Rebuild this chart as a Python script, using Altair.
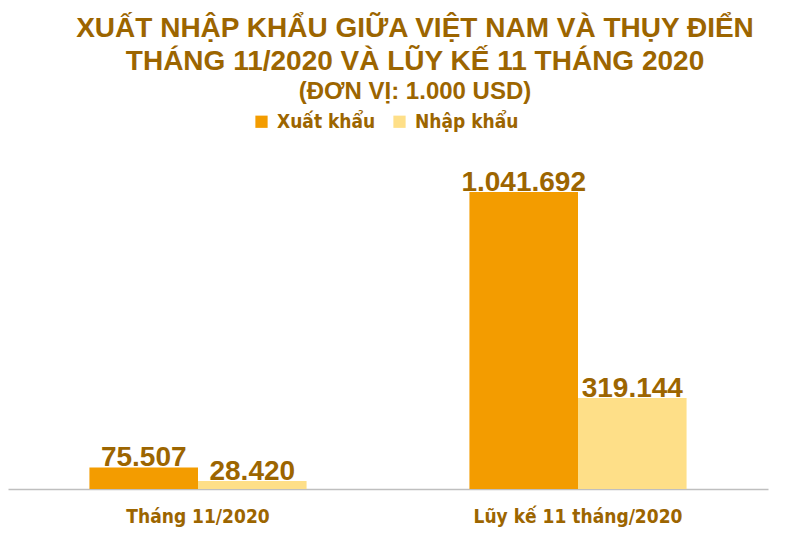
import altair as alt
import pandas as pd

# Dữ liệu (đơn vị: 1.000 USD)
categories = ["Tháng 11/2020", "Lũy kế 11 tháng/2020"]
series = ["Xuất khẩu", "Nhập khẩu"]
xuat_khau = [75507, 1041692]
nhap_khau = [28420, 319144]

colors = ["#F39C00", "#FEDF88"]
text_color = "#9C6500"
narrow = "DejaVu Sans Condensed, Liberation Sans, sans-serif"

rows = []
for i, cat in enumerate(categories):
    for name, vals in zip(series, [xuat_khau, nhap_khau]):
        v = vals[i]
        rows.append({"cat": cat, "series": name, "value": v,
                     "label": f"{v:,}".replace(",", ".")})
df = pd.DataFrame(rows)

x_enc = alt.X("cat:N", sort=categories,
              scale=alt.Scale(paddingInner=0, paddingOuter=0),
              axis=alt.Axis(title=None, labelAngle=0, ticks=False, grid=False,
                            domainColor="#BFBFBF", domainWidth=1.5, labelLimit=0,
                            labelPadding=18, labelFont=narrow,
                            labelFontSize=19, labelFontWeight="bold",
                            labelColor=text_color))
xoff_enc = alt.XOffset("series:N", sort=series,
                       scale=alt.Scale(paddingInner=0, paddingOuter=0.75))
y_enc = alt.Y("value:Q", scale=alt.Scale(domain=[0, 1224000], nice=False), axis=None)

base = alt.Chart(df)

bars = base.mark_bar().encode(
    x=x_enc, xOffset=xoff_enc, y=y_enc,
    color=alt.Color("series:N", sort=series,
                    scale=alt.Scale(domain=series, range=colors),
                    legend=alt.Legend(title=None, orient="none", legendX=244, legendY=-28,
                                      direction="horizontal", symbolType="square",
                                      symbolSize=150, symbolStrokeWidth=0,
                                      labelFont=narrow, labelFontSize=19,
                                      labelFontWeight="bold", labelColor=text_color,
                                      columnPadding=14, labelOffset=6)),
)

labels = base.mark_text(baseline="alphabetic", dy=-1, font="Liberation Sans",
                        fontSize=28, fontWeight="bold", color=text_color).encode(
    x=x_enc, xOffset=xoff_enc, y=y_enc, text="label:N")

chart = (bars + labels).properties(
    width=760, height=349,
    autosize=alt.AutoSizeParams(type="none"),
    padding={"left": 0, "top": 132, "right": 27, "bottom": 47},
    title=alt.TitleParams(
        text=["XUẤT NHẬP KHẨU GIỮA VIỆT NAM VÀ THỤY ĐIỂN",
              "THÁNG 11/2020 VÀ LŨY KẾ 11 THÁNG 2020"],
        subtitle="(ĐƠN VỊ: 1.000 USD)",
        anchor="middle", frame="group", dx=27, offset=8,
        font="Liberation Sans", fontSize=28, fontWeight="bold", lineHeight=33,
        color=text_color,
        subtitleFont="Liberation Sans", subtitleFontSize=24,
        subtitleFontWeight="bold", subtitleColor=text_color, subtitlePadding=4),
).configure_view(strokeWidth=0)

chart.save("out.html", embed_options={"renderer": "svg", "actions": False})
